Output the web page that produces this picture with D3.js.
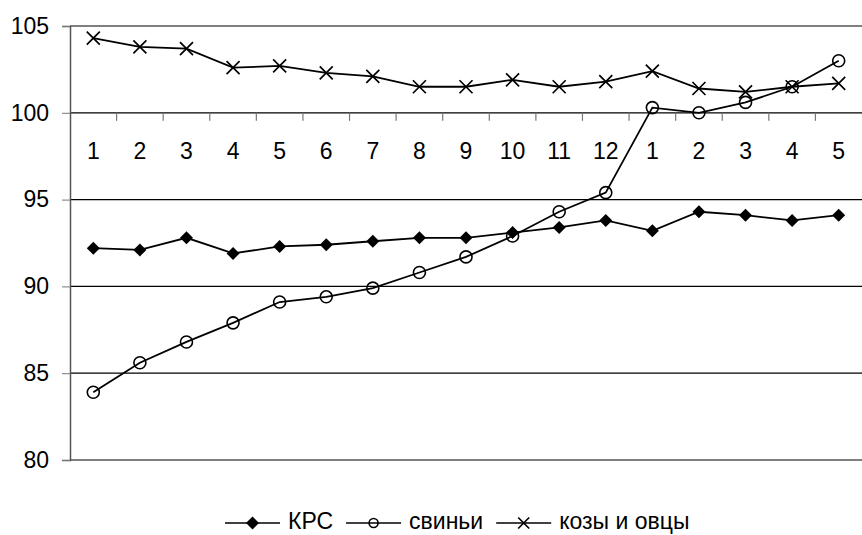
<!DOCTYPE html>
<html>
<head>
<meta charset="utf-8">
<script src="https://d3js.org/d3.v7.min.js"></script>
<style>
  body { margin: 0; background: #fff; }
  text { font-family: "Liberation Sans", Arial, sans-serif; fill: #000; }
</style>
</head>
<body>
<svg id="chart" width="862" height="535"></svg>
<script>
// categories (months)
const months = ["1","2","3","4","5","6","7","8","9","10","11","12","1","2","3","4","5"];
const yTicks = [80, 85, 90, 95, 100, 105];

// series values
const krs    = [92.2, 92.1, 92.8, 91.9, 92.3, 92.4, 92.6, 92.8, 92.8, 93.1, 93.4, 93.8, 93.2, 94.3, 94.1, 93.8, 94.1];
const pigs   = [83.9, 85.6, 86.8, 87.9, 89.1, 89.4, 89.9, 90.8, 91.7, 92.9, 94.3, 95.4, 100.3, 100.0, 100.6, 101.5, 103.0];
const goats  = [104.3, 103.8, 103.7, 102.6, 102.7, 102.3, 102.1, 101.5, 101.5, 101.9, 101.5, 101.8, 102.4, 101.4, 101.2, 101.5, 101.7];

const seriesNames = ["КРС", "свиньи", "козы и овцы"];
const seriesMarks = ["diamond", "circle", "cross"];

const svg = d3.select("svg#chart");
const margin = {top: 26, right: 0, bottom: 75, left: 70};
const width = +svg.attr("width");
const height = +svg.attr("height");
const chartWidth = width - margin.left - margin.right;
const chartHeight = height - margin.top - margin.bottom;
const fontSize = 23;

const xScale = d3.scaleBand().domain(d3.range(months.length)).range([0, chartWidth]);
const yScale = d3.scaleLinear().domain([80, 105]).range([chartHeight, 0]);
const cx = i => xScale(i) + xScale.bandwidth() / 2;

const g = svg.append("g").attr("transform", `translate(${margin.left},${margin.top})`);

// horizontal gridlines
g.append("g")
  .selectAll("line")
  .data(yTicks)
  .join("line")
  .attr("x1", 0).attr("x2", chartWidth)
  .attr("y1", d => yScale(d)).attr("y2", d => yScale(d))
  .attr("stroke", "#000").attr("stroke-width", 1.2);

// y axis
const leftAxis = d3.axisLeft(yScale).tickValues(yTicks).tickSize(8).tickPadding(13);
const yAxis = g.append("g").call(leftAxis);
yAxis.select(".domain").attr("stroke", "#555").attr("stroke-width", 1.5);
yAxis.selectAll(".tick line").attr("stroke", "#777");
yAxis.selectAll("text").attr("font-size", fontSize).attr("font-family", null);

// category axis crossing at 100
const y100 = yScale(100);
const xAxis = g.append("g").attr("transform", `translate(0,${y100})`);
xAxis.selectAll("line")
  .data(d3.range(1, months.length))
  .join("line")
  .attr("x1", d => xScale(d)).attr("x2", d => xScale(d))
  .attr("y1", 0).attr("y2", 8)
  .attr("stroke", "#777").attr("stroke-width", 1.2);
xAxis.selectAll("text")
  .data(months)
  .join("text")
  .attr("x", (d, i) => cx(i))
  .attr("y", 46)
  .attr("text-anchor", "middle")
  .attr("font-size", fontSize)
  .text(d => d);

// markers
function drawMarker(sel, type, x, y, small) {
  if (type === "diamond") {
    const s = 6.5;
    sel.append("path")
      .attr("d", `M${x},${y - s}L${x + s},${y}L${x},${y + s}L${x - s},${y}Z`)
      .attr("fill", "#000");
  } else if (type === "circle") {
    sel.append("circle").attr("cx", x).attr("cy", y).attr("r", small ? 4.5 : 6)
      .attr("fill", "none").attr("stroke", "#000").attr("stroke-width", 1.6);
  } else {
    const s = small ? 5.5 : 6.5;
    sel.append("path")
      .attr("d", `M${x - s},${y - s}L${x + s},${y + s}M${x - s},${y + s}L${x + s},${y - s}`)
      .attr("stroke", "#000").attr("stroke-width", 1.7).attr("fill", "none");
  }
}

const line = d3.line().x((d, i) => cx(i)).y(d => yScale(d));
const allSeries = [krs, pigs, goats];

allSeries.forEach((vals, k) => {
  const sg = g.append("g");
  sg.append("path").datum(vals)
    .attr("d", line)
    .attr("fill", "none").attr("stroke", "#000").attr("stroke-width", 1.8);
  vals.forEach((v, i) => drawMarker(sg, seriesMarks[k], cx(i), yScale(v), false));
});

// legend
const legend = svg.append("g").attr("transform", "translate(225,523)");
let lx = 0;
seriesNames.forEach((name, k) => {
  legend.append("line").attr("x1", lx).attr("x2", lx + 55).attr("y1", 0).attr("y2", 0)
    .attr("stroke", "#000").attr("stroke-width", 1.6);
  drawMarker(legend, seriesMarks[k], lx + 27.5, 0, true);
  const t = legend.append("text").attr("x", lx + 63).attr("y", 6)
    .attr("font-size", fontSize).text(name);
  lx += 63 + t.node().getComputedTextLength() + 13;
});
</script>
</body>
</html>
